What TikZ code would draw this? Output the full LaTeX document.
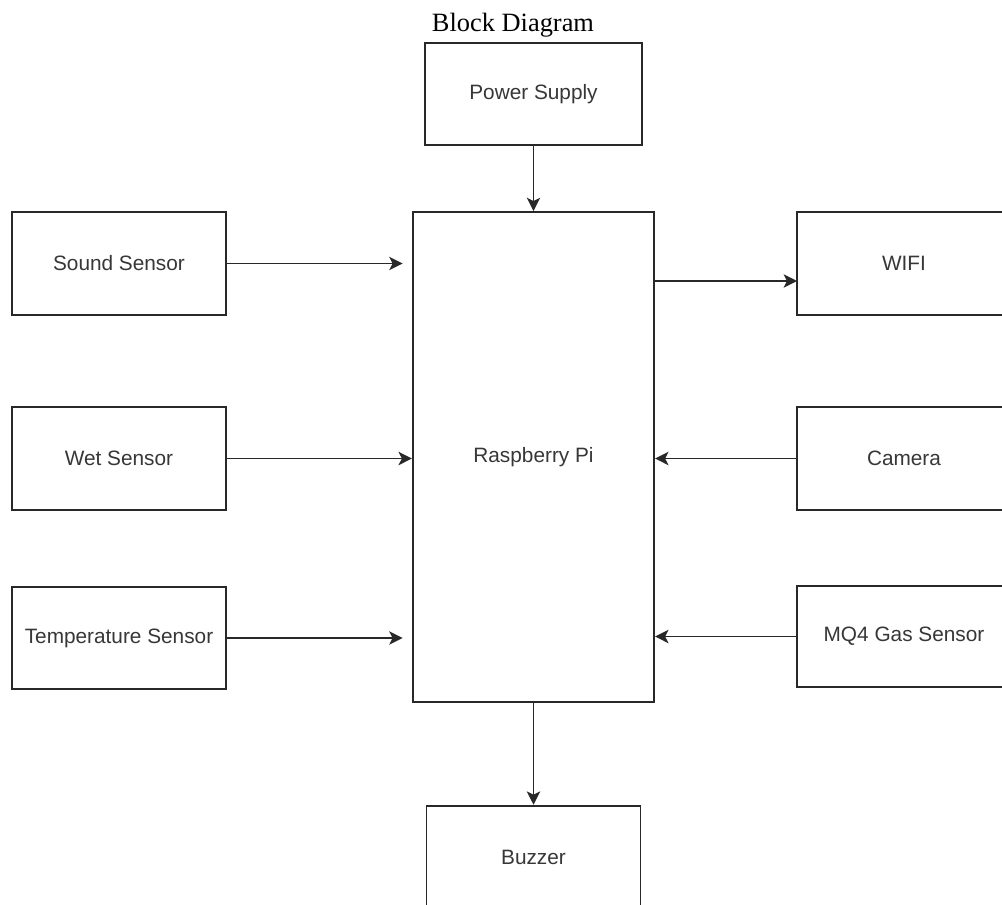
\documentclass[tikz,border=0pt]{standalone}
\usepackage{fontspec}
\setmainfont{Liberation Serif}
\newfontfamily\blockfont{Liberation Sans}
\usepackage{xcolor}
\usepackage{tikz}
\usetikzlibrary{arrows.meta, positioning}
\definecolor{bLine}{RGB}{40,40,40}
\definecolor{bText}{RGB}{55,55,55}

\begin{document}
\begin{tikzpicture}[x=0.75pt, y=-0.75pt,
    blk/.style={draw=bLine, line width=1.4pt, fill=white, inner sep=0pt,
      minimum width=160.5pt, minimum height=77pt,
      font=\blockfont\fontsize{15.6}{18}\selectfont, text=bText},
    link/.style={draw=bLine, line width=1.4pt, -{Stealth[length=10pt, width=10pt, inset=2.5pt]}}]
  % Frame
  \useasboundingbox (0,0) rectangle (1002,904);

  % Title
  \node[font=\fontsize{19.8}{22}\selectfont] (title) at (513,25) {Block Diagram};

  % Centre column
  \node[blk, minimum width=163pt] (power) at (533.5,94) {Power Supply};
  \node[blk, minimum width=181pt, minimum height=367.5pt] (pi) at (533.5,457) {Raspberry Pi};
  \node[blk] (buzzer) at (533.5,857) {Buzzer};

  % Inputs on the left
  \node[blk] (sound) at (119,263.5) {Sound Sensor};
  \node[blk] (wet) at (119,458.5) {Wet Sensor};
  \node[blk, minimum height=76pt] (temp) at (119,638) {Temperature Sensor};

  % Right column
  \node[blk] (wifi) at (904,263.5) {WIFI};
  \node[blk] (camera) at (904,458.5) {Camera};
  \node[blk, minimum height=76pt] (mq4) at (904,636.5) {MQ4 Gas Sensor};
  \coordinate (wifiin) at (797,281);

  % Links
  \draw[link] (power) -- (pi);
  \draw[link] (pi) -- (buzzer);
  \draw[link, shorten >=7pt] (sound.east) -- (sound.east -| pi.west);
  \draw[link] (wet) -- (wet.east -| pi.west);
  \draw[link, shorten >=7pt] (temp.east) -- (temp.east -| pi.west);
  \draw[link] (wifiin -| pi.east) -- (wifiin);
  \draw[link] (camera) -- (camera.west -| pi.east);
  \draw[link] (mq4) -- (mq4.west -| pi.east);
\end{tikzpicture}
\end{document}
